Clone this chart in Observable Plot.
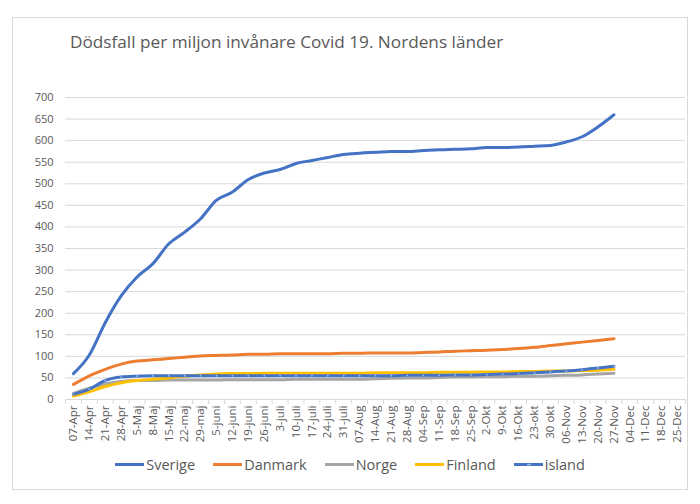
<!DOCTYPE html>
<html><head><meta charset="utf-8">
<script src="https://cdn.jsdelivr.net/npm/d3@7"></script>
<script src="https://cdn.jsdelivr.net/npm/@observablehq/plot@0.6"></script>
<style>
body{margin:0;background:#fff;}
#wrap{position:relative;width:700px;height:504px;font-family:"Open Sans","Liberation Sans",sans-serif;overflow:hidden;}
#frame{position:absolute;left:12px;top:17px;width:676px;height:473px;border:1px solid #d9d9d9;box-sizing:border-box;}
#title{position:absolute;left:70px;top:30px;font-size:17.2px;color:#595959;white-space:nowrap;}
#legend{position:absolute;left:0;top:455px;width:700px;display:flex;justify-content:center;gap:18px;font-size:14.5px;color:#595959;}
#legend .item{display:flex;align-items:center;gap:2px;}
#plot{position:absolute;left:0;top:0;}
</style></head><body>
<div id="wrap"><div id="frame"></div><div id="plot"></div><div id="title">Dödsfall per miljon invånare Covid 19. Nordens länder</div><div id="legend"></div></div>
<script>
const dates = ["07-Apr","14-Apr","21-Apr","28-Apr","5-Maj","8-Maj","15-Maj","22-maj","29-maj","5-juni","12-juni","19-juni","26-juni","3-juli","10-juli","17-juli","24-juli","31-juli","07-Aug","14-Aug","21-Aug","28-Aug","04-Sep","11-Sep","18-Sep","25-Sep","2-Okt","9-Okt","16-Okt","23-okt","30 okt","06-Nov","13-Nov","20-Nov","27-Nov","04-Dec","11-Dec","18-Dec","25-Dec"];
const yTicks = [0,50,100,150,200,250,300,350,400,450,500,550,600,650,700];
const sverige = [60,103,178,240,284,315,361,388,419,462,481,510,525,533,547,554,561,568,571,573,575,575,577,579,580,581,584,584,585,587,589,597,609,632,660];
const danmark = [35,55,70,82,89,92,95,98,101,102,103,105,105,106,106,106,106,107,107,108,108,108,109,110,112,113,114,116,118,121,125,129,133,137,141];
const norge = [14,26,36,42,44,44,45,45,45,45,46,46,46,46,47,47,47,47,47,48,49,50,50,51,52,52,53,53,54,54,55,56,57,59,61];
const finland = [8,18,30,39,44,47,50,54,57,59,60,60,61,61,61,61,61,61,61,62,62,62,62,63,63,63,64,64,65,65,66,66,67,68,70];
const island = [12,24,44,52,54,55,55,55,55,55,55,55,55,55,55,55,55,55,55,55,55,56,56,56,57,57,58,59,60,62,64,66,69,73,77];
const seriesNames = ["Sverige","Danmark","Norge","Finland","island"];
const seriesColors = ["#4472C4","#ED7D31","#A5A5A5","#FFC000","#4472C4"];
const seriesValues = [sverige,danmark,norge,finland,island];

const rows = [];
seriesValues.forEach((vals, s) => vals.forEach((v, i) => rows.push({series: seriesNames[s], date: dates[i], value: v})));
const islandRows = rows.filter(d => d.series === "island");

const W = 700, H = 504, mL = 65, mR = 15, mT = 97, mB = 105;
const step = (W - mL - mR) / dates.length;

const chart = Plot.plot({
  width: W, height: H,
  marginLeft: mL, marginRight: mR, marginTop: mT, marginBottom: mB,
  style: {fontFamily: "'Open Sans','Liberation Sans',sans-serif", background: "transparent"},
  x: {type: "point", domain: dates, padding: 0.5},
  y: {domain: [0, 700]},
  color: {domain: seriesNames, range: seriesColors},
  marks: [
    Plot.ruleY(yTicks, {stroke: "#d9d9d9", strokeWidth: 1}),
    Plot.axisY({ticks: yTicks, tickSize: 0, tickPadding: 12, fontSize: 11, fill: "#595959", label: null}),
    Plot.axisX({tickSize: 5, stroke: "#d9d9d9", tickFormat: () => "", dx: -step / 2, label: null}),
    Plot.axisX({ticks: [dates[dates.length - 1]], tickSize: 5, stroke: "#d9d9d9", tickFormat: () => "", dx: step / 2, label: null}),
    Plot.axisX({tickSize: 0, tickPadding: 6, tickRotate: -90, fontSize: 11.5, fill: "#595959", label: null}),
    Plot.line(rows, {x: "date", y: "value", z: "series", stroke: "series", strokeWidth: 3, curve: "monotone-x", strokeLinecap: "round"}),
    Plot.dot(islandRows, {x: "date", y: "value", r: 0.9, fill: "#9fbde6", stroke: null})
  ]
});
document.getElementById("plot").appendChild(chart);

const legend = document.getElementById("legend");
seriesNames.forEach((name, i) => {
  const item = document.createElement("div");
  item.className = "item";
  const marker = name === "island" ? `<line x1="13" x2="17" y1="2.5" y2="2.5" stroke="#9fbde6" stroke-width="1.5"/>` : "";
  item.innerHTML = `<svg width="29" height="5"><line x1="0" x2="29" y1="2.5" y2="2.5" stroke="${seriesColors[i]}" stroke-width="3"/>${marker}</svg><span>${name}</span>`;
  legend.appendChild(item);
});
</script>
</body></html>
